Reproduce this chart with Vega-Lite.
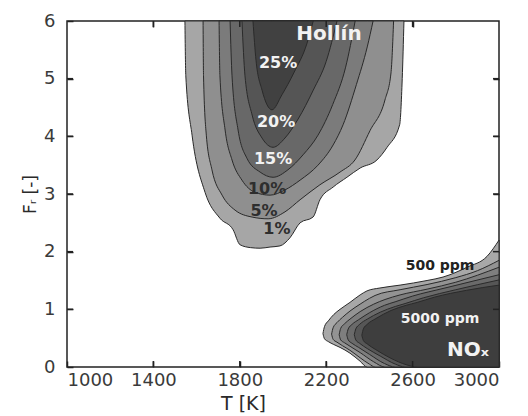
{
  "$schema": "https://vega.github.io/schema/vega-lite/v6.json",
  "width": 432,
  "height": 346,
  "autosize": {"type": "none"},
  "padding": {"left": 67, "top": 21, "right": 29, "bottom": 49},
  "background": "white",
  "config": {
    "font": "DejaVu Sans",
    "view": {"stroke": "#222", "strokeWidth": 1.5},
    "axis": {
      "grid": false,
      "domain": false,
      "ticks": true,
      "zindex": 1,
      "offset": -6,
      "tickSize": 6,
      "labelFont": "DejaVu Sans",
      "labelFontSize": 18,
      "labelColor": "#3a3a3a",
      "titleFont": "DejaVu Sans",
      "titleFontWeight": "normal",
      "titleColor": "#2a2a2a",
      "tickColor": "#222222",
      "tickWidth": 1.5
    }
  },
  "datasets": {
    "soot": [
      {"c": "1%", "T": 1546, "F": 6}, {"c": "1%", "T": 1550, "F": 5.05}, {"c": "1%", "T": 1579, "F": 4.02}, {"c": "1%", "T": 1639, "F": 3.03}, {"c": "1%", "T": 1708, "F": 2.58}, {"c": "1%", "T": 1769, "F": 2.38}, {"c": "1%", "T": 1801, "F": 2.12}, {"c": "1%", "T": 1850, "F": 2.07}, {"c": "1%", "T": 1894, "F": 2.06}, {"c": "1%", "T": 1940, "F": 2.08}, {"c": "1%", "T": 1986, "F": 2.1}, {"c": "1%", "T": 2032, "F": 2.24}, {"c": "1%", "T": 2079, "F": 2.5}, {"c": "1%", "T": 2139, "F": 2.6}, {"c": "1%", "T": 2171, "F": 2.9}, {"c": "1%", "T": 2232, "F": 3.12}, {"c": "1%", "T": 2296, "F": 3.29}, {"c": "1%", "T": 2357, "F": 3.45}, {"c": "1%", "T": 2435, "F": 3.59}, {"c": "1%", "T": 2482, "F": 3.81}, {"c": "1%", "T": 2540, "F": 4.2}, {"c": "1%", "T": 2552, "F": 5.0}, {"c": "1%", "T": 2560, "F": 6},
      {"c": "5%", "T": 1630, "F": 6}, {"c": "5%", "T": 1632, "F": 5.05}, {"c": "5%", "T": 1645, "F": 4.02}, {"c": "5%", "T": 1671, "F": 3.42}, {"c": "5%", "T": 1718, "F": 2.98}, {"c": "5%", "T": 1778, "F": 2.72}, {"c": "5%", "T": 1857, "F": 2.6}, {"c": "5%", "T": 1931, "F": 2.57}, {"c": "5%", "T": 2009, "F": 2.69}, {"c": "5%", "T": 2079, "F": 2.9}, {"c": "5%", "T": 2171, "F": 3.16}, {"c": "5%", "T": 2264, "F": 3.38}, {"c": "5%", "T": 2333, "F": 3.59}, {"c": "5%", "T": 2403, "F": 4.1}, {"c": "5%", "T": 2472, "F": 4.63}, {"c": "5%", "T": 2500, "F": 5.1}, {"c": "5%", "T": 2512, "F": 6},
      {"c": "10%", "T": 1704, "F": 6}, {"c": "10%", "T": 1708, "F": 5.05}, {"c": "10%", "T": 1732, "F": 4.11}, {"c": "10%", "T": 1764, "F": 3.59}, {"c": "10%", "T": 1810, "F": 3.24}, {"c": "10%", "T": 1870, "F": 3.03}, {"c": "10%", "T": 1940, "F": 2.98}, {"c": "10%", "T": 2009, "F": 3.07}, {"c": "10%", "T": 2079, "F": 3.24}, {"c": "10%", "T": 2162, "F": 3.5}, {"c": "10%", "T": 2232, "F": 3.85}, {"c": "10%", "T": 2278, "F": 4.2}, {"c": "10%", "T": 2340, "F": 4.9}, {"c": "10%", "T": 2390, "F": 5.55}, {"c": "10%", "T": 2417, "F": 6},
      {"c": "15%", "T": 1755, "F": 6}, {"c": "15%", "T": 1764, "F": 5.05}, {"c": "15%", "T": 1792, "F": 4.11}, {"c": "15%", "T": 1833, "F": 3.62}, {"c": "15%", "T": 1894, "F": 3.38}, {"c": "15%", "T": 1954, "F": 3.29}, {"c": "15%", "T": 2023, "F": 3.42}, {"c": "15%", "T": 2093, "F": 3.68}, {"c": "15%", "T": 2162, "F": 4.02}, {"c": "15%", "T": 2230, "F": 4.55}, {"c": "15%", "T": 2290, "F": 5.2}, {"c": "15%", "T": 2334, "F": 6},
      {"c": "20%", "T": 1810, "F": 6}, {"c": "20%", "T": 1824, "F": 5.05}, {"c": "20%", "T": 1857, "F": 4.37}, {"c": "20%", "T": 1903, "F": 3.97}, {"c": "20%", "T": 1954, "F": 3.81}, {"c": "20%", "T": 2009, "F": 3.97}, {"c": "20%", "T": 2070, "F": 4.3}, {"c": "20%", "T": 2140, "F": 4.8}, {"c": "20%", "T": 2200, "F": 5.3}, {"c": "20%", "T": 2250, "F": 6},
      {"c": "25%", "T": 1861, "F": 6}, {"c": "25%", "T": 1875, "F": 5.32}, {"c": "25%", "T": 1903, "F": 4.8}, {"c": "25%", "T": 1949, "F": 4.46}, {"c": "25%", "T": 1995, "F": 4.72}, {"c": "25%", "T": 2050, "F": 5.1}, {"c": "25%", "T": 2110, "F": 5.6}, {"c": "25%", "T": 2140, "F": 6}
    ],
    "nox": [
      {"c": "500", "T": 2185, "Fu": 0.58, "Fl": 0.58}, {"c": "500", "T": 2192, "Fu": 0.7, "Fl": 0.49}, {"c": "500", "T": 2210, "Fu": 0.8, "Fl": 0.44}, {"c": "500", "T": 2235, "Fu": 0.91, "Fl": 0.39}, {"c": "500", "T": 2264, "Fu": 1.0, "Fl": 0.34}, {"c": "500", "T": 2310, "Fu": 1.12, "Fl": 0.24}, {"c": "500", "T": 2357, "Fu": 1.25, "Fl": 0.1}, {"c": "500", "T": 2389, "Fu": 1.32, "Fl": 0}, {"c": "500", "T": 2449, "Fu": 1.37, "Fl": 0}, {"c": "500", "T": 2542, "Fu": 1.42, "Fl": 0}, {"c": "500", "T": 2667, "Fu": 1.5, "Fl": 0}, {"c": "500", "T": 2741, "Fu": 1.56, "Fl": 0}, {"c": "500", "T": 2852, "Fu": 1.73, "Fl": 0}, {"c": "500", "T": 2945, "Fu": 1.92, "Fl": 0}, {"c": "500", "T": 3000, "Fu": 2.2, "Fl": 0},
      {"c": "1000", "T": 2225, "Fu": 0.57, "Fl": 0.57}, {"c": "1000", "T": 2232, "Fu": 0.68, "Fl": 0.48}, {"c": "1000", "T": 2250, "Fu": 0.77, "Fl": 0.43}, {"c": "1000", "T": 2275, "Fu": 0.86, "Fl": 0.37}, {"c": "1000", "T": 2310, "Fu": 0.97, "Fl": 0.29}, {"c": "1000", "T": 2357, "Fu": 1.09, "Fl": 0.16}, {"c": "1000", "T": 2400, "Fu": 1.19, "Fl": 0.05}, {"c": "1000", "T": 2426, "Fu": 1.24, "Fl": 0}, {"c": "1000", "T": 2542, "Fu": 1.34, "Fl": 0}, {"c": "1000", "T": 2667, "Fu": 1.43, "Fl": 0}, {"c": "1000", "T": 2800, "Fu": 1.55, "Fl": 0}, {"c": "1000", "T": 2900, "Fu": 1.67, "Fl": 0}, {"c": "1000", "T": 3000, "Fu": 1.85, "Fl": 0},
      {"c": "2000", "T": 2260, "Fu": 0.56, "Fl": 0.56}, {"c": "2000", "T": 2267, "Fu": 0.67, "Fl": 0.47}, {"c": "2000", "T": 2285, "Fu": 0.75, "Fl": 0.42}, {"c": "2000", "T": 2310, "Fu": 0.83, "Fl": 0.36}, {"c": "2000", "T": 2357, "Fu": 0.96, "Fl": 0.25}, {"c": "2000", "T": 2420, "Fu": 1.09, "Fl": 0.09}, {"c": "2000", "T": 2472, "Fu": 1.17, "Fl": 0}, {"c": "2000", "T": 2542, "Fu": 1.25, "Fl": 0}, {"c": "2000", "T": 2667, "Fu": 1.35, "Fl": 0}, {"c": "2000", "T": 2800, "Fu": 1.47, "Fl": 0}, {"c": "2000", "T": 3000, "Fu": 1.73, "Fl": 0},
      {"c": "3000", "T": 2295, "Fu": 0.56, "Fl": 0.56}, {"c": "3000", "T": 2302, "Fu": 0.66, "Fl": 0.47}, {"c": "3000", "T": 2320, "Fu": 0.74, "Fl": 0.41}, {"c": "3000", "T": 2350, "Fu": 0.82, "Fl": 0.34}, {"c": "3000", "T": 2400, "Fu": 0.94, "Fl": 0.22}, {"c": "3000", "T": 2470, "Fu": 1.07, "Fl": 0.06}, {"c": "3000", "T": 2519, "Fu": 1.13, "Fl": 0}, {"c": "3000", "T": 2600, "Fu": 1.23, "Fl": 0}, {"c": "3000", "T": 2750, "Fu": 1.37, "Fl": 0}, {"c": "3000", "T": 3000, "Fu": 1.6, "Fl": 0},
      {"c": "4000", "T": 2330, "Fu": 0.56, "Fl": 0.56}, {"c": "4000", "T": 2337, "Fu": 0.66, "Fl": 0.47}, {"c": "4000", "T": 2355, "Fu": 0.74, "Fl": 0.41}, {"c": "4000", "T": 2390, "Fu": 0.83, "Fl": 0.32}, {"c": "4000", "T": 2450, "Fu": 0.95, "Fl": 0.19}, {"c": "4000", "T": 2520, "Fu": 1.05, "Fl": 0.05}, {"c": "4000", "T": 2565, "Fu": 1.1, "Fl": 0}, {"c": "4000", "T": 2650, "Fu": 1.2, "Fl": 0}, {"c": "4000", "T": 2800, "Fu": 1.34, "Fl": 0}, {"c": "4000", "T": 3000, "Fu": 1.51, "Fl": 0},
      {"c": "5000", "T": 2365, "Fu": 0.55, "Fl": 0.55}, {"c": "5000", "T": 2372, "Fu": 0.66, "Fl": 0.46}, {"c": "5000", "T": 2390, "Fu": 0.74, "Fl": 0.4}, {"c": "5000", "T": 2430, "Fu": 0.84, "Fl": 0.3}, {"c": "5000", "T": 2500, "Fu": 0.98, "Fl": 0.15}, {"c": "5000", "T": 2570, "Fu": 1.07, "Fl": 0.04}, {"c": "5000", "T": 2621, "Fu": 1.12, "Fl": 0}, {"c": "5000", "T": 2700, "Fu": 1.21, "Fl": 0}, {"c": "5000", "T": 2850, "Fu": 1.33, "Fl": 0}, {"c": "5000", "T": 3000, "Fu": 1.42, "Fl": 0}
    ],
    "labels": [
      {"text": "Hollín", "T": 2213, "F": 5.77, "kind": "name", "shade": "dark"},
      {"text": "NOₓ", "T": 2857, "F": 0.29, "kind": "name", "shade": "dark"},
      {"text": "25%", "T": 1977, "F": 5.27, "kind": "pct", "shade": "dark"},
      {"text": "20%", "T": 1968, "F": 4.25, "kind": "pct", "shade": "dark"},
      {"text": "15%", "T": 1954, "F": 3.61, "kind": "pct", "shade": "dark"},
      {"text": "10%", "T": 1926, "F": 3.09, "kind": "pct", "shade": "light"},
      {"text": "5%", "T": 1912, "F": 2.7, "kind": "pct", "shade": "light"},
      {"text": "1%", "T": 1972, "F": 2.39, "kind": "pct", "shade": "light"},
      {"text": "500 ppm", "T": 2727, "F": 1.75, "kind": "ppm", "shade": "light"},
      {"text": "5000 ppm", "T": 2727, "F": 0.83, "kind": "ppm", "shade": "dark"}
    ],
    "xticks": [
      {"T": 1400, "F": 0}, {"T": 1800, "F": 0}, {"T": 2200, "F": 0}, {"T": 2600, "F": 0},
      {"T": 1400, "F": 6}, {"T": 1800, "F": 6}, {"T": 2200, "F": 6}, {"T": 2600, "F": 6}
    ],
    "yticks": [
      {"T": 1000, "F": 1}, {"T": 1000, "F": 2}, {"T": 1000, "F": 3}, {"T": 1000, "F": 4}, {"T": 1000, "F": 5},
      {"T": 3000, "F": 1}, {"T": 3000, "F": 2}, {"T": 3000, "F": 3}, {"T": 3000, "F": 4}, {"T": 3000, "F": 5}
    ]
  },
  "layer": [
    {
      "data": {"name": "soot"},
      "mark": {"type": "area", "interpolate": "monotone", "stroke": "#2a2a2a", "strokeWidth": 1, "opacity": 1},
      "encoding": {
        "x": {"field": "T", "type": "quantitative", "scale": {"domain": [1000, 3000], "nice": false, "zero": false},
          "axis": {"values": [1000, 1400, 1800, 2200, 2600, 3000], "format": "d", "labelPadding": 4, "title": "T [K]", "titleFontSize": 19, "titleX": 176, "titlePadding": 5}},
        "y": {"field": "F", "type": "quantitative", "stack": null, "scale": {"domain": [0, 6], "nice": false},
          "axis": {"values": [0, 1, 2, 3, 4, 5, 6], "labelPadding": 12, "title": "Fᵣ [-]", "titleFontSize": 17, "titlePadding": 4}},
        "y2": {"datum": 6},
        "color": {"field": "c", "type": "nominal", "scale": {"domain": ["1%", "5%", "10%", "15%", "20%", "25%"], "range": ["#a6a6a6", "#8f8f8f", "#7b7b7b", "#686868", "#555555", "#414141"]}, "legend": null}
      }
    },
    {
      "data": {"name": "nox"},
      "mark": {"type": "area", "interpolate": "monotone", "stroke": "#2a2a2a", "strokeWidth": 1, "opacity": 1},
      "encoding": {
        "x": {"field": "T", "type": "quantitative", "axis": null},
        "y": {"field": "Fu", "type": "quantitative", "stack": null, "axis": null},
        "y2": {"field": "Fl"},
        "color": {"field": "c", "type": "nominal", "scale": {"domain": ["500", "1000", "2000", "3000", "4000", "5000"], "range": ["#a8a8a8", "#939393", "#7e7e7e", "#6a6a6a", "#565656", "#3e3e3e"]}, "legend": null}
      }
    },
    {
      "data": {"name": "xticks"},
      "mark": {"type": "tick", "orient": "vertical", "size": 12, "thickness": 1.5, "color": "#222222", "opacity": 1, "clip": true},
      "encoding": {
        "x": {"field": "T", "type": "quantitative", "axis": null},
        "y": {"field": "F", "type": "quantitative", "axis": null}
      }
    },
    {
      "data": {"name": "yticks"},
      "mark": {"type": "tick", "orient": "horizontal", "size": 12, "thickness": 1.5, "color": "#222222", "opacity": 1, "clip": true},
      "encoding": {
        "x": {"field": "T", "type": "quantitative", "axis": null},
        "y": {"field": "F", "type": "quantitative", "axis": null}
      }
    },
    {
      "data": {"name": "labels"},
      "transform": [{"filter": "datum.kind === 'pct'"}],
      "mark": {"type": "text", "font": "DejaVu Sans", "fontWeight": "bold", "fontSize": 16, "align": "center", "baseline": "middle"},
      "encoding": {
        "x": {"field": "T", "type": "quantitative", "axis": {"orient": "top", "values": [1400, 1800, 2200, 2600], "labels": false, "title": null}},
        "y": {"field": "F", "type": "quantitative", "axis": {"orient": "right", "values": [1, 2, 3, 4, 5], "labels": false, "title": null}},
        "text": {"field": "text"},
        "color": {"field": "shade", "type": "nominal", "scale": {"domain": ["dark", "light"], "range": ["#f2f2f2", "#2e2e2e"]}, "legend": null}
      }
    },
    {
      "data": {"name": "labels"},
      "transform": [{"filter": "datum.kind === 'name'"}],
      "mark": {"type": "text", "font": "DejaVu Sans", "fontWeight": "bold", "fontSize": 20, "align": "center", "baseline": "middle"},
      "encoding": {
        "x": {"field": "T", "type": "quantitative", "axis": null},
        "y": {"field": "F", "type": "quantitative", "axis": null},
        "text": {"field": "text"},
        "color": {"field": "shade", "type": "nominal", "scale": {"domain": ["dark", "light"], "range": ["#f2f2f2", "#2e2e2e"]}, "legend": null}
      }
    },
    {
      "data": {"name": "labels"},
      "transform": [{"filter": "datum.kind === 'ppm'"}],
      "mark": {"type": "text", "font": "DejaVu Sans", "fontWeight": "bold", "fontSize": 14, "align": "center", "baseline": "middle"},
      "encoding": {
        "x": {"field": "T", "type": "quantitative", "axis": null},
        "y": {"field": "F", "type": "quantitative", "axis": null},
        "text": {"field": "text"},
        "color": {"field": "shade", "type": "nominal", "scale": {"domain": ["dark", "light"], "range": ["#f2f2f2", "#222222"]}, "legend": null}
      }
    }
  ],
  "resolve": {"scale": {"color": "independent"}, "axis": {"x": "independent", "y": "independent"}}
}
